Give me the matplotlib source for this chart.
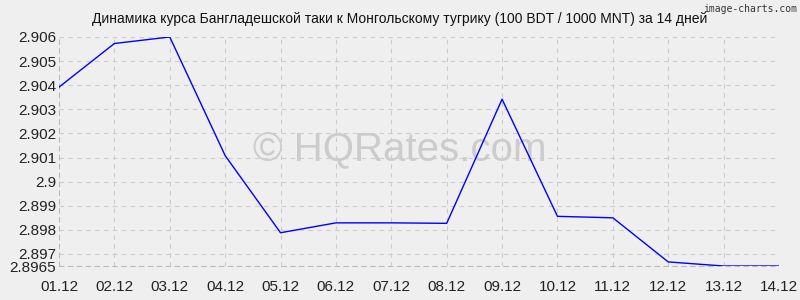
import matplotlib
matplotlib.use("Agg")
import matplotlib.pyplot as plt

# rates for 100 BDT / 1000 MNT
days = ["01.12", "02.12", "03.12", "04.12", "05.12", "06.12", "07.12",
        "08.12", "09.12", "10.12", "11.12", "12.12", "13.12", "14.12"]
rates = [2.90392, 2.90573, 2.90600, 2.90108, 2.89788, 2.89829, 2.89829,
         2.89827, 2.90342, 2.89856, 2.89850, 2.89667, 2.89650, 2.89650]
ytick_vals = [2.8965, 2.897, 2.898, 2.899, 2.9, 2.901, 2.902, 2.903, 2.904, 2.905, 2.906]
ytick_labels = ["2.8965", "2.897", "2.898", "2.899", "2.9", "2.901", "2.902",
                "2.903", "2.904", "2.905", "2.906"]

plt.rcParams['font.family'] = ['Liberation Sans', 'DejaVu Sans']
bg = "#efefef"

fig = plt.figure(figsize=(8, 3), dpi=100, facecolor=bg)
ax = fig.add_axes([0.07375, 0.1133, 0.9, 0.7634])
ax.set_facecolor(bg)

x = list(range(len(days)))
ax.plot(x, rates, color="#0000ff", linewidth=1.0, zorder=3)

ax.set_xlim(0, len(days) - 1)
ax.set_ylim(2.8965, 2.906)
ax.set_xticks(x)
ax.set_xticklabels(days)
ax.set_yticks(ytick_vals)
ax.set_yticklabels(ytick_labels)
ax.tick_params(length=0, labelsize=11, colors="#222222")
ax.tick_params(axis="x", pad=10)
ax.tick_params(axis="y", pad=2)

ax.grid(True, color="#cccccc", linestyle=(0, (4, 4)), linewidth=0.8)
for side in ["top", "right"]:
    ax.spines[side].set_visible(False)
for side in ["left", "bottom"]:
    ax.spines[side].set_color("#bbbbbb")
    ax.spines[side].set_linestyle((0, (4, 4)))
    ax.spines[side].set_linewidth(0.8)

fig.text(0.5, 0.935, "Динамика курса Бангладешской таки к Монгольскому тугрику (100 BDT / 1000 MNT) за 14 дней",
         ha="center", va="center", fontsize=10, color="#111111")
# watermark sits under the line
ax.text(0.5, 0.5, "© HQRates.com", ha="center", va="center", fontsize=29,
        color="#cccccc", zorder=1, transform=fig.transFigure)
fig.text(0.996, 0.988, "image-charts.com", ha="right", va="top", fontsize=7,
         color="#333333", family="DejaVu Sans Mono")

fig.savefig("out.png", dpi=100, facecolor=bg)
